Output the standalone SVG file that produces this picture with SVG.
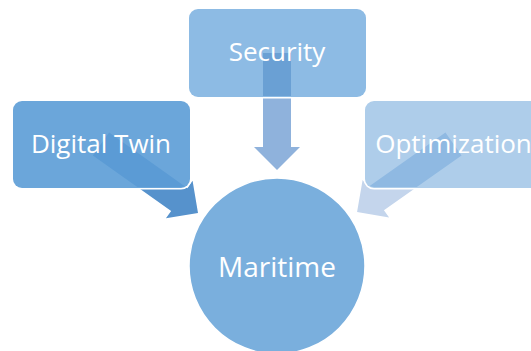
<svg xmlns="http://www.w3.org/2000/svg" width="531" height="351" viewBox="0 0 531 351">
<style>
.box{stroke:none}
.edge{fill:none;stroke:#ffffff;stroke-width:1.5}
.lbl{font-family:"Open Sans","Liberation Sans",sans-serif;fill:#ffffff;text-anchor:middle}
.small{font-size:26px}
.big{font-size:28px}
</style>
<defs>
<polygon id="arr117" points="0,-14 94,-14 94,-23 117,0 94,23 94,14 0,14"/>
<polygon id="arr119" points="0,-14 96,-14 96,-23 119,0 96,23 96,14 0,14"/>
<polygon id="arr118" points="0,-14 95,-14 95,-23 118,0 95,23 95,14 0,14"/>
<mask id="outS" maskUnits="userSpaceOnUse" x="0" y="0" width="531" height="351"><rect width="531" height="351" fill="#fff"/><rect x="189" y="9" width="177" height="88" rx="9" fill="#000" stroke="#000" stroke-width="3"/></mask>
<mask id="outD" maskUnits="userSpaceOnUse" x="0" y="0" width="531" height="351"><rect width="531" height="351" fill="#fff"/><rect x="13" y="101" width="177" height="87" rx="9" fill="#000" stroke="#000" stroke-width="3"/></mask>
<mask id="outO" maskUnits="userSpaceOnUse" x="0" y="0" width="531" height="351"><rect width="531" height="351" fill="#fff"/><rect x="365" y="101" width="177" height="87" rx="9" fill="#000" stroke="#000" stroke-width="3"/></mask>
<clipPath id="inS"><rect x="190" y="10" width="175" height="86" rx="8"/></clipPath>
<clipPath id="inD"><rect x="14" y="102" width="175" height="85" rx="8"/></clipPath>
<clipPath id="inO"><rect x="366" y="102" width="175" height="85" rx="8"/></clipPath>
</defs>
<rect width="531" height="351" fill="#ffffff"/>
<g id="node-maritime">
<circle cx="277" cy="266" r="88" fill="#7aafdd" stroke="#ffffff" stroke-width="1.5"/>
<text class="lbl big" x="277" y="277">Maritime</text>
</g>
<g id="node-security">
<rect class="box" x="189" y="9" width="177" height="88" rx="9" fill="#8dbbe4"/>
</g>
<g id="node-digital-twin">
<rect class="box" x="13" y="101" width="177" height="87" rx="9" fill="#6ba6da"/>
</g>
<g id="node-optimization">
<rect class="box" x="365" y="101" width="177" height="87" rx="9" fill="#aecdea"/>
</g>
<g id="connectors">
<g mask="url(#outS)"><use href="#arr117" transform="translate(277,53) rotate(90)" fill="#8fb2dc"/></g>
<g clip-path="url(#inS)"><use href="#arr117" transform="translate(277,53) rotate(90)" fill="#6aa0d4"/></g>
<g mask="url(#outD)"><use href="#arr119" transform="translate(101,144) rotate(35.4)" fill="#5692cc"/></g>
<g clip-path="url(#inD)"><use href="#arr119" transform="translate(101,144) rotate(35.4)" fill="#5b9bd5"/></g>
<g mask="url(#outO)"><use href="#arr118" transform="translate(453.5,144) rotate(144.8)" fill="#c4d5ec"/></g>
<g clip-path="url(#inO)"><use href="#arr118" transform="translate(453.5,144) rotate(144.8)" fill="#8fb9e2"/></g>
</g>
<g id="labels">
<text class="lbl small" x="277" y="61">Security</text>
<text class="lbl small" x="101" y="153">Digital Twin</text>
<text class="lbl small" x="453.5" y="153">Optimization</text>
</g>
</svg>
